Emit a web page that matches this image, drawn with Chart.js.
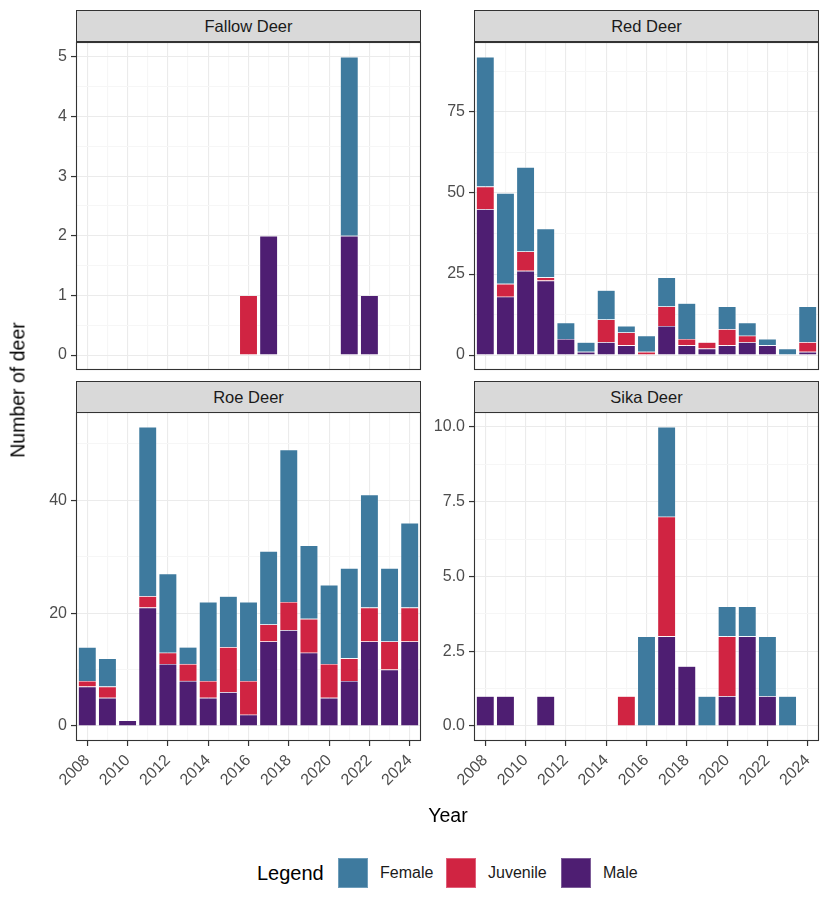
<!DOCTYPE html>
<html>
<head>
<meta charset="utf-8">
<script src="https://cdn.jsdelivr.net/npm/chart.js@4.4.1/dist/chart.umd.min.js"></script>
<style>
  body { margin: 0; background: #fff; font-family: "Liberation Sans", Arial, sans-serif; }
  #wrap { position: relative; width: 830px; height: 910px; overflow: hidden; }
  canvas { position: absolute; }
  .strip { position: absolute; box-sizing: border-box; background: #D9D9D9; border: 1px solid #333;
           color: #1A1A1A; font-size: 16.5px; display: flex; align-items: center; justify-content: center; z-index: 2; }
  .lbl { position: absolute; color: #000; white-space: nowrap; }
  .key { position: absolute; width: 30px; height: 30px; box-sizing: border-box; top: 858px; }
</style>
</head>
<body>
<div id="wrap">
  <canvas id="fallow" width="425" height="356" style="left:0;top:28px"></canvas>
  <canvas id="red" width="405" height="356" style="left:425px;top:28px"></canvas>
  <canvas id="roe" width="432" height="402" style="left:0;top:398px"></canvas>
  <canvas id="sika" width="405" height="402" style="left:425px;top:398px"></canvas>

  <div class="strip" style="left:76px;top:10px;width:345px;height:32px">Fallow Deer</div>
  <div class="strip" style="left:474px;top:10px;width:345px;height:32px">Red Deer</div>
  <div class="strip" style="left:76px;top:381px;width:345px;height:32px">Roe Deer</div>
  <div class="strip" style="left:474px;top:381px;width:345px;height:32px">Sika Deer</div>

  <div class="lbl" style="left:448px;top:815px;font-size:19.5px;transform:translate(-50%,-50%)">Year</div>
  <div class="lbl" style="left:18px;top:390px;font-size:19.5px;transform:translate(-50%,-50%) rotate(-90deg)">Number of deer</div>

  <div class="lbl" style="left:257px;top:873px;font-size:20px;transform:translateY(-50%)">Legend</div>
  <div class="key" style="left:338px;background:#3E7A9E;border:1px solid #6E9DBA"></div>
  <div class="lbl" style="left:380px;top:873px;font-size:16px;color:#1A1A1A;transform:translateY(-50%)">Female</div>
  <div class="key" style="left:446px;background:#D02442;border:1px solid #E0607A"></div>
  <div class="lbl" style="left:488px;top:873px;font-size:16px;color:#1A1A1A;transform:translateY(-50%)">Juvenile</div>
  <div class="key" style="left:561px;background:#4E1E72;border:1px solid #7D5C98"></div>
  <div class="lbl" style="left:603px;top:873px;font-size:16px;color:#1A1A1A;transform:translateY(-50%)">Male</div>
</div>

<script>
const years = [2008, 2009, 2010, 2011, 2012, 2013, 2014, 2015, 2016, 2017, 2018, 2019, 2020, 2021, 2022, 2023, 2024];

const fallowMale     = [0, 0, 0, 0, 0, 0, 0, 0, 0, 2, 0, 0, 0, 2, 1, 0, 0];
const fallowJuvenile = [0, 0, 0, 0, 0, 0, 0, 0, 1, 0, 0, 0, 0, 0, 0, 0, 0];
const fallowFemale   = [0, 0, 0, 0, 0, 0, 0, 0, 0, 0, 0, 0, 0, 3, 0, 0, 0];

const redMale     = [45, 18, 26, 23, 5, 1, 4, 3, 0, 9, 3, 2, 3, 4, 3, 0, 1];
const redJuvenile = [7, 4, 6, 1, 0, 0, 7, 4, 1, 6, 2, 2, 5, 2, 0, 0, 3];
const redFemale   = [40, 28, 26, 15, 5, 3, 9, 2, 5, 9, 11, 0, 7, 4, 2, 2, 11];

const roeMale     = [7, 5, 1, 21, 11, 8, 5, 6, 2, 15, 17, 13, 5, 8, 15, 10, 15];
const roeJuvenile = [1, 2, 0, 2, 2, 3, 3, 8, 6, 3, 5, 6, 6, 4, 6, 5, 6];
const roeFemale   = [6, 5, 0, 30, 14, 3, 14, 9, 14, 13, 27, 13, 14, 16, 20, 13, 15];

const sikaMale     = [1, 1, 0, 1, 0, 0, 0, 0, 0, 3, 2, 0, 1, 3, 1, 0, 0];
const sikaJuvenile = [0, 0, 0, 0, 0, 0, 0, 1, 0, 4, 0, 0, 2, 0, 0, 0, 0];
const sikaFemale   = [0, 0, 0, 0, 0, 0, 0, 0, 3, 3, 0, 1, 1, 1, 2, 1, 0];

const fallowTicks = [0, 1, 2, 3, 4, 5];
const redTicks = [0, 25, 50, 75];
const roeTicks = [0, 20, 40];
const sikaTicks = [0, 2.5, 5, 7.5, 10];

const colFemale = '#3E7A9E';
const colJuvenile = '#D02442';
const colMale = '#4E1E72';

const tickFont = { family: '"Liberation Sans", Arial, sans-serif', size: 16 };

// panel border, drawn over the bars like ggplot's panel.border
const frame = {
  id: 'frame',
  afterDraw(chart) {
    const a = chart.chartArea, ctx = chart.ctx;
    ctx.save();
    ctx.strokeStyle = '#333333';
    ctx.lineWidth = 1.1;
    ctx.strokeRect(Math.round(a.left) + 0.5, Math.round(a.top) + 0.5,
                   Math.round(a.right - a.left) - 1, Math.round(a.bottom - a.top) - 1);
    ctx.restore();
  }
};

function panel(id, male, juv, fem, majors, fmt, showX, yw, padRight) {
  const totals = male.map((m, i) => m + juv[i] + fem[i]);
  const top = Math.max(...totals);
  const yMin = -0.05 * top, yMax = top * 1.05;
  const step = majors[1] - majors[0];
  let all = majors.slice();
  majors.forEach(v => all.push(v + step / 2));
  all.push(majors[0] - step / 2);
  all = all.filter(v => v >= yMin && v <= yMax).sort((a, b) => a - b);
  const isMajor = v => majors.some(m => Math.abs(m - v) < 1e-9);

  const ds = (label, data, color) => ({
    label, data, backgroundColor: color,
    borderColor: 'rgba(255,255,255,0.45)', borderWidth: 0.6,
    barPercentage: 0.9, categoryPercentage: 1
  });

  new Chart(document.getElementById(id), {
    type: 'bar',
    data: {
      labels: years,
      datasets: [
        ds('Male', male, colMale),
        ds('Juvenile', juv, colJuvenile),
        ds('Female', fem, colFemale)
      ]
    },
    plugins: [frame],
    options: {
      responsive: false,
      animation: false,
      layout: { padding: { left: 0, right: padRight, top: 14, bottom: showX ? 0 : 14 } },
      plugins: { legend: { display: false }, tooltip: { enabled: false } },
      scales: {
        x: {
          type: 'linear', stacked: true, offset: false, min: 2007.44, max: 2024.56,
          afterBuildTicks: s => { s.ticks = years.map(v => ({ value: v })); },
          afterFit: s => { s.height = showX ? 59 : 0; },
          border: { display: false },
          grid: {
            offset: false,
            color: c => (c.tick && c.tick.value % 2 === 0) ? '#EBEBEB' : '#F6F6F6',
            lineWidth: 1.1,
            drawTicks: showX, tickLength: 5, tickWidth: 1.2,
            tickColor: c => (c.tick && c.tick.value % 2 === 0) ? '#333333' : 'rgba(0,0,0,0)'
          },
          ticks: {
            display: showX, autoSkip: false, minRotation: 45, maxRotation: 45,
            font: tickFont, color: '#4D4D4D', padding: 5,
            callback: v => v % 2 === 0 ? String(v) : ''
          }
        },
        y: {
          stacked: true, min: yMin, max: yMax,
          afterBuildTicks: s => { s.ticks = all.map(v => ({ value: v })); },
          afterFit: s => { s.width = yw; },
          border: { display: false },
          grid: {
            color: c => (c.tick && isMajor(c.tick.value)) ? '#EBEBEB' : '#F6F6F6',
            lineWidth: 1.1,
            tickLength: 5, tickWidth: 1.2,
            tickColor: c => (c.tick && isMajor(c.tick.value)) ? '#333333' : 'rgba(0,0,0,0)'
          },
          ticks: {
            autoSkip: false, padding: 4,
            font: tickFont, color: '#4D4D4D',
            callback: v => isMajor(v) ? fmt(v) : ''
          }
        }
      }
    }
  });
}

const intFmt = v => String(Math.round(v));
const decFmt = v => v.toFixed(1);

panel('fallow', fallowMale, fallowJuvenile, fallowFemale, fallowTicks, intFmt, false, 76, 4);
panel('red', redMale, redJuvenile, redFemale, redTicks, intFmt, false, 49, 11);
panel('roe', roeMale, roeJuvenile, roeFemale, roeTicks, intFmt, true, 76, 11);
panel('sika', sikaMale, sikaJuvenile, sikaFemale, sikaTicks, decFmt, true, 49, 11);
</script>
</body>
</html>
